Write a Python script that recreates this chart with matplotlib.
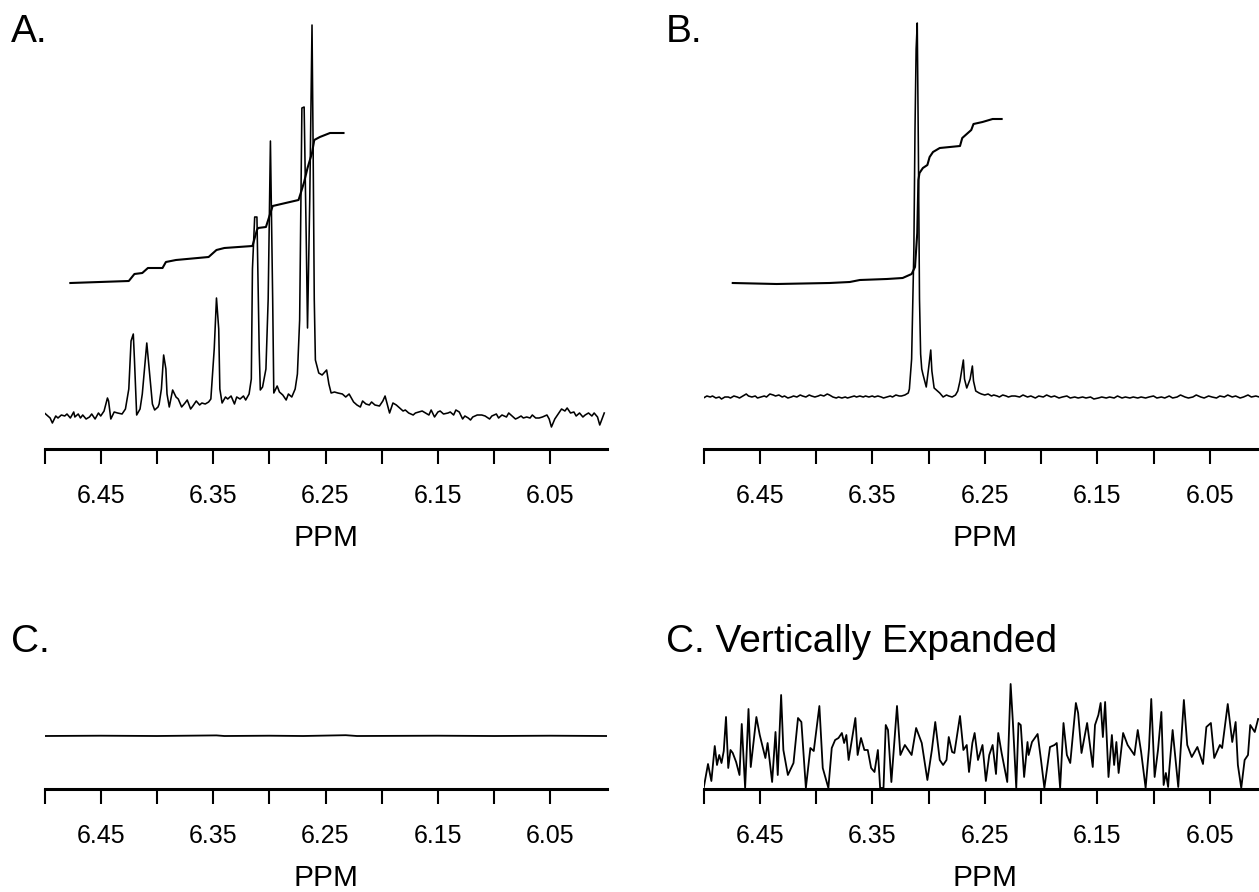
import numpy as np
import matplotlib.pyplot as plt

plt.rcParams['font.family'] = ['Liberation Sans', 'DejaVu Sans']

tick_ppm = [6.50, 6.45, 6.40, 6.35, 6.30, 6.25, 6.20, 6.15, 6.10, 6.05]
tick_text = ['', '6.45', '', '6.35', '', '6.25', '', '6.15', '', '6.05']

# panel A spectrum (ppm, height above axis)
a_ppm = [6.500, 6.497, 6.495, 6.493, 6.490, 6.488, 6.485, 6.482, 6.480, 6.477,
         6.474, 6.473, 6.470, 6.468, 6.466, 6.463, 6.460, 6.458, 6.455, 6.452,
         6.450, 6.447, 6.444, 6.443, 6.441, 6.438, 6.435, 6.431, 6.428, 6.425,
         6.423, 6.421, 6.420, 6.418, 6.415, 6.413, 6.409, 6.406, 6.404, 6.402,
         6.399, 6.398, 6.396, 6.394, 6.392, 6.391, 6.389, 6.386, 6.383, 6.381,
         6.378, 6.375, 6.373, 6.370, 6.368, 6.365, 6.362, 6.360, 6.357, 6.354,
         6.352, 6.349, 6.347, 6.345, 6.344, 6.342, 6.339, 6.337, 6.334, 6.331,
         6.329, 6.326, 6.323, 6.321, 6.318, 6.316, 6.315, 6.313, 6.311, 6.309,
         6.308, 6.306, 6.303, 6.301, 6.299, 6.297, 6.296, 6.293, 6.291, 6.288,
         6.285, 6.283, 6.280, 6.277, 6.275, 6.273, 6.271, 6.269, 6.267, 6.266,
         6.264, 6.262, 6.261, 6.260, 6.259, 6.256, 6.253, 6.249, 6.247, 6.245,
         6.242, 6.239, 6.235, 6.232, 6.229, 6.225, 6.222, 6.219, 6.217, 6.214,
         6.211, 6.209, 6.206, 6.202, 6.199, 6.197, 6.194, 6.193, 6.190, 6.187,
         6.184, 6.181, 6.179, 6.176, 6.172, 6.170, 6.167, 6.164, 6.161, 6.158,
         6.156, 6.153, 6.150, 6.148, 6.145, 6.141, 6.139, 6.136, 6.134, 6.131,
         6.128, 6.126, 6.123, 6.121, 6.119, 6.115, 6.111, 6.108, 6.104, 6.102,
         6.098, 6.096, 6.093, 6.089, 6.087, 6.084, 6.081, 6.079, 6.076, 6.074,
         6.071, 6.068, 6.066, 6.063, 6.060, 6.057, 6.053, 6.051, 6.049, 6.046,
         6.043, 6.040, 6.037, 6.035, 6.032, 6.029, 6.027, 6.024, 6.021, 6.019,
         6.016, 6.013, 6.011, 6.008, 6.006, 6.004, 6.002]
a_h = [36, 33, 31, 26, 33, 31, 34, 33, 35, 31,
       37, 32, 35, 31, 34, 30, 32, 35, 30, 36,
       33, 38, 51, 48, 30, 37, 36, 35, 40, 60,
       108, 115, 90, 34, 40, 55, 106, 70, 45, 39,
       42, 45, 60, 94, 80, 55, 42, 59, 52, 50,
       42, 46, 49, 40, 43, 48, 44, 46, 45, 47,
       50, 100, 151, 120, 60, 46, 52, 50, 53, 45,
       52, 50, 53, 49, 55, 70, 180, 232, 232, 100,
       59, 62, 80, 150, 308, 150, 56, 63, 57, 54,
       49, 55, 52, 60, 75, 129, 341, 342, 200, 121,
       250, 424, 300, 150, 89, 76, 74, 79, 65, 56,
       57, 56, 55, 52, 55, 47, 44, 42, 48, 45,
       44, 47, 44, 43, 48, 53, 40, 36, 46, 44,
       41, 38, 39, 36, 34, 36, 37, 38, 36, 34,
       39, 32, 37, 38, 35, 36, 37, 34, 39, 37,
       30, 33, 31, 29, 32, 34, 34, 33, 30, 33,
       35, 31, 34, 32, 36, 33, 30, 31, 33, 31,
       32, 31, 34, 31, 31, 32, 34, 30, 22, 30,
       35, 40, 38, 41, 36, 37, 33, 36, 32, 34,
       36, 33, 36, 32, 24, 30, 36]

a_int_ppm = [6.477, 6.425, 6.420, 6.413, 6.408, 6.395, 6.392, 6.383, 6.354, 6.347,
             6.340, 6.315, 6.311, 6.310, 6.303, 6.299, 6.297, 6.274, 6.272, 6.269,
             6.266, 6.262, 6.260, 6.255, 6.246, 6.234]
a_int_h = [166, 168, 175, 176, 181, 181, 187, 189, 192, 199,
           201, 203, 219, 221, 222, 236, 243, 249, 256, 267,
           281, 296, 309, 312, 316, 316]

# panel B spectrum
b_ppm = [6.500, 6.497, 6.494, 6.492, 6.489, 6.486, 6.484, 6.481, 6.478, 6.476,
         6.473, 6.470, 6.468, 6.465, 6.462, 6.460, 6.457, 6.454, 6.452, 6.449,
         6.446, 6.444, 6.441, 6.438, 6.436, 6.433, 6.430, 6.428, 6.425, 6.422,
         6.420, 6.417, 6.414, 6.412, 6.409, 6.406, 6.404, 6.401, 6.398, 6.396,
         6.393, 6.390, 6.388, 6.385, 6.382, 6.380, 6.377, 6.374, 6.372, 6.369,
         6.366, 6.364, 6.361, 6.358, 6.356, 6.353, 6.350, 6.348, 6.345, 6.342,
         6.340, 6.337, 6.334, 6.332, 6.329, 6.326, 6.324, 6.321, 6.318, 6.317,
         6.315, 6.313, 6.312, 6.311, 6.310, 6.309, 6.308, 6.307, 6.306, 6.305,
         6.302, 6.300, 6.298, 6.297, 6.295, 6.292, 6.290, 6.287, 6.284, 6.282,
         6.279, 6.276, 6.274, 6.272, 6.269, 6.268, 6.266, 6.263, 6.261, 6.260,
         6.258, 6.255, 6.253, 6.250, 6.247, 6.244, 6.242, 6.239, 6.237, 6.234,
         6.231, 6.229, 6.226, 6.223, 6.219, 6.216, 6.212, 6.209, 6.205, 6.202,
         6.198, 6.195, 6.191, 6.188, 6.184, 6.181, 6.177, 6.174, 6.170, 6.167,
         6.163, 6.160, 6.156, 6.153, 6.149, 6.146, 6.142, 6.139, 6.135, 6.132,
         6.128, 6.125, 6.121, 6.118, 6.114, 6.111, 6.107, 6.104, 6.100, 6.097,
         6.093, 6.090, 6.086, 6.083, 6.079, 6.076, 6.072, 6.069, 6.065, 6.062,
         6.058, 6.055, 6.051, 6.048, 6.044, 6.041, 6.037, 6.034, 6.030, 6.027,
         6.023, 6.020, 6.016, 6.013, 6.009, 6.006]
b_h = [51, 53, 52, 53, 51, 52, 50, 52, 52, 51,
       53, 52, 51, 53, 55, 53, 52, 53, 51, 52,
       53, 52, 55, 54, 53, 54, 52, 53, 51, 52,
       53, 52, 54, 53, 52, 54, 53, 52, 53, 54,
       53, 55, 54, 52, 51, 52, 51, 52, 51, 52,
       53, 52, 53, 52, 53, 52, 53, 52, 53, 52,
       51, 52, 53, 52, 54, 53, 53, 54, 56, 60,
       90, 200, 320, 400, 426, 300, 150, 95, 80, 75,
       62, 80, 99, 78, 61, 58, 56, 52, 54, 53,
       52, 54, 58, 68, 89, 70, 61, 70, 83, 68,
       58, 56, 55, 54, 55, 53, 54, 53, 52, 54,
       53, 52, 53, 53, 52, 54, 52, 53, 51, 53,
       52, 54, 52, 53, 51, 52, 53, 51, 52, 51,
       52, 51, 52, 50, 51, 52, 51, 52, 51, 53,
       51, 52, 51, 52, 51, 52, 51, 52, 53, 51,
       52, 51, 53, 51, 52, 54, 52, 51, 52, 54,
       52, 51, 53, 52, 51, 53, 52, 54, 52, 53,
       51, 52, 54, 52, 53, 52]

b_int_ppm = [6.474, 6.435, 6.388, 6.370, 6.361, 6.337, 6.323, 6.315, 6.312, 6.310,
             6.309, 6.308, 6.305, 6.301, 6.299, 6.296, 6.290, 6.272, 6.270, 6.266,
             6.262, 6.260, 6.252, 6.243, 6.235]
b_int_h = [166, 165, 166, 167, 169, 170, 171, 175, 182, 216,
           269, 276, 281, 284, 292, 297, 301, 303, 311, 315,
           319, 325, 327, 330, 330]

# panel C (full scale) and C vertically expanded
c_ppm = [6.500, 6.450, 6.400, 6.347, 6.340, 6.300, 6.270, 6.232, 6.222, 6.150, 6.100, 6.050, 6.000]
c_h = [53, 53.3, 53, 53.6, 53, 53.3, 53, 53.8, 53, 53.3, 53, 53.3, 53]

cx_ppm = [6.500, 6.496, 6.493, 6.490, 6.488, 6.486, 6.484, 6.482, 6.480, 6.478,
          6.476, 6.474, 6.471, 6.468, 6.466, 6.463, 6.460, 6.458, 6.453, 6.450,
          6.445, 6.443, 6.439, 6.436, 6.434, 6.431, 6.429, 6.425, 6.420, 6.416,
          6.413, 6.409, 6.405, 6.402, 6.397, 6.394, 6.389, 6.386, 6.383, 6.380,
          6.377, 6.375, 6.373, 6.371, 6.365, 6.363, 6.360, 6.357, 6.354, 6.351,
          6.348, 6.345, 6.343, 6.340, 6.338, 6.336, 6.333, 6.328, 6.325, 6.321,
          6.318, 6.315, 6.311, 6.306, 6.301, 6.297, 6.294, 6.290, 6.287, 6.284,
          6.282, 6.279, 6.277, 6.272, 6.269, 6.266, 6.264, 6.261, 6.259, 6.256,
          6.252, 6.249, 6.246, 6.243, 6.240, 6.238, 6.235, 6.230, 6.227, 6.225,
          6.222, 6.220, 6.218, 6.215, 6.212, 6.211, 6.208, 6.203, 6.200, 6.197,
          6.192, 6.188, 6.186, 6.183, 6.180, 6.177, 6.174, 6.169, 6.167, 6.164,
          6.159, 6.154, 6.152, 6.149, 6.147, 6.145, 6.143, 6.140, 6.137, 6.135,
          6.133, 6.131, 6.127, 6.123, 6.117, 6.114, 6.111, 6.107, 6.104, 6.102,
          6.099, 6.096, 6.093, 6.091, 6.089, 6.087, 6.086, 6.083, 6.078, 6.073,
          6.070, 6.066, 6.061, 6.056, 6.053, 6.049, 6.046, 6.041, 6.039, 6.034,
          6.030, 6.027, 6.025, 6.022, 6.019, 6.016, 6.014, 6.010, 6.007]
cx_h = [0, 25, 8, 43, 24, 34, 26, 38, 72, 21,
        39, 36, 27, 14, 65, 1, 80, 22, 72, 54,
        31, 46, 7, 57, 14, 94, 39, 14, 26, 71,
        67, 1, 41, 38, 83, 21, 1, 41, 49, 51,
        56, 46, 54, 29, 71, 34, 51, 39, 39, 21,
        17, 39, 1, 1, 64, 59, 7, 83, 34, 44,
        39, 34, 61, 46, 9, 39, 67, 29, 24, 29,
        52, 37, 36, 73, 39, 44, 17, 46, 56, 29,
        44, 8, 34, 44, 15, 56, 36, 7, 105, 67,
        1, 66, 64, 12, 47, 34, 47, 55, 29, 1,
        42, 44, 46, 1, 66, 34, 26, 86, 76, 36,
        66, 22, 64, 74, 86, 52, 87, 12, 54, 24,
        47, 16, 56, 44, 34, 59, 37, 1, 41, 90,
        12, 39, 77, 4, 16, 2, 19, 59, 2, 89,
        44, 32, 42, 25, 62, 66, 31, 44, 41, 85,
        47, 67, 24, 1, 29, 34, 64, 57, 70]

W, H = 1259, 892
fig = plt.figure(figsize=(W / 100, H / 100), dpi=100)


def panel(left, axis_y, right, top, xmax):
    ax = fig.add_axes([left / W, (H - axis_y) / H, (right - left) / W, (axis_y - top) / H])
    ax.set_xlim(6.50, xmax)
    ax.set_ylim(0, axis_y - top)
    for s in ['top', 'right', 'left']:
        ax.spines[s].set_visible(False)
    ax.spines['bottom'].set_linewidth(2.2)
    ax.patch.set_alpha(0)
    ax.set_yticks([])
    ax.set_xticks(tick_ppm)
    ax.set_xticklabels(tick_text)
    ax.tick_params(axis='x', direction='out', length=11, width=1.5, pad=14.5, labelsize=18)
    ax.set_xlabel('PPM', fontsize=21.5, labelpad=11)
    return ax


axA = panel(44.5, 449, 606.5, 0, 6.00)
axA.plot(a_ppm, a_h, color='black', lw=1.15)
axA.plot(a_int_ppm, a_int_h, color='black', lw=1.5)

axB = panel(703.5, 449, 1266, 0, 6.00)
axB.plot(b_ppm, b_h, color='black', lw=1.15)
axB.plot(b_int_ppm, b_int_h, color='black', lw=1.5)

axC = panel(44.5, 789, 606.5, 680, 6.00)
axC.plot(c_ppm, c_h, color='black', lw=1.3)

axD = panel(703.5, 789, 1266, 680, 6.00)
axD.plot(cx_ppm, cx_h, color='black', lw=1.3)

fig.text(11 / W, 1 - 42 / H, 'A.', fontsize=28, va='baseline')
fig.text(666 / W, 1 - 42 / H, 'B.', fontsize=28, va='baseline')
fig.text(11 / W, 1 - 652 / H, 'C.', fontsize=28, va='baseline')
fig.text(666 / W, 1 - 652 / H, 'C. Vertically Expanded', fontsize=28, va='baseline')

fig.savefig('out.png', dpi=100, facecolor='white')
